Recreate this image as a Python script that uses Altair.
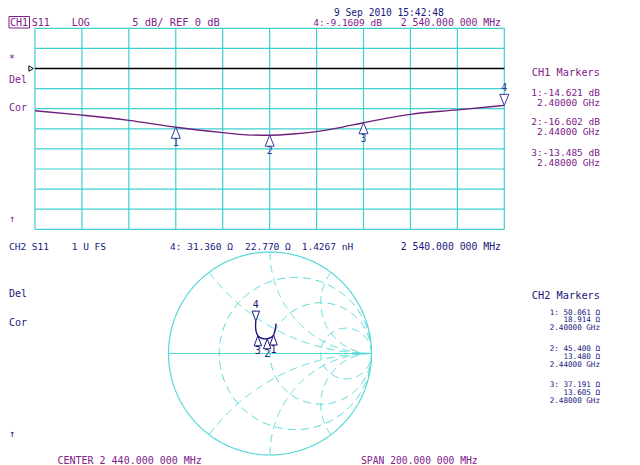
import altair as alt
import numpy as np
import pandas as pd

# CH1: S11 log magnitude trace
freq_ghz = [2.34, 2.36, 2.38, 2.40, 2.42, 2.43, 2.44, 2.45, 2.46, 2.47, 2.48, 2.50, 2.52, 2.54]
s11_db = [-10.5, -11.6, -12.9, -14.621, -15.95, -16.5, -16.602, -16.3, -15.7, -14.7, -13.485, -11.4, -10.3, -9.1609]

# markers
marker_ids = ["1", "2", "3", "4"]
marker_freq = [2.40, 2.44, 2.48, 2.54]
marker_db = [-14.621, -16.602, -13.485, -9.1609]
marker_res = [50.061, 45.400, 37.191, 31.360]
marker_react = [18.914, 13.480, 13.605, 22.770]

# CH2: Smith chart trace (reflection coefficient)
smith_freq = [2.34, 2.36, 2.38, 2.40, 2.42, 2.44, 2.46, 2.48, 2.50, 2.52, 2.54]
gamma_re = [0.060, 0.055, 0.047, 0.035, 0.010, -0.028, -0.075, -0.120, -0.138, -0.142, -0.140]
gamma_im = [0.295, 0.257, 0.219, 0.182, 0.158, 0.145, 0.148, 0.175, 0.224, 0.267, 0.319]

# grid
grid_freq = [2.34, 2.36, 2.38, 2.40, 2.42, 2.44, 2.46, 2.48, 2.50, 2.52, 2.54]
grid_db = [10, 5, 0, -5, -10, -15, -20, -25, -30, -35, -40]
ref_db = [0]
smith_r_circles = [1 / 3, 1, 3]
smith_x_arcs = [0.5, 1, 2, -0.5, -1, -2]

# texts
date_text = "9 Sep 2010  15:42:48"
ch1_header = ["CH1", "S11", "LOG", "5 dB/ REF 0 dB", "4:-9.1609 dB", "2 540.000 000 MHz"]
ch1_side = ["*", "Del", "Cor", "\u2191"]
ch1_marker_title = "CH1 Markers"
ch1_marker_lines = ["1:-14.621 dB", "2.40000 GHz", "2:-16.602 dB",
                    "2.44000 GHz", "3:-13.485 dB", "2.48000 GHz"]
ch2_header = ["CH2", "S11", "1 U FS", "4: 31.360 \u03a9", "22.770 \u03a9", "1.4267 nH", "2 540.000 000 MHz"]
ch2_side = ["Del", "Cor", "\u2191"]
ch2_marker_title = "CH2 Markers"
ch2_marker_lines = ["1: 50.061 \u03a9", "18.914 \u03a9", "2.40000 GHz",
                    "2: 45.400 \u03a9", "13.480 \u03a9", "2.44000 GHz",
                    "3: 37.191 \u03a9", "13.605 \u03a9", "2.48000 GHz"]
footer = ["CENTER 2 440.000 000 MHz", "SPAN  200.000 000 MHz"]

# ---------------- styles ----------------
FONT = "DejaVu Sans Mono"
FS = 10
PURPLE = "#80208A"
TRACE1 = "#6E1E7C"
MK1 = "#3A3A9A"
NAVY = "#18187C"
GRID = "#3FCFCF"
SMITH = "#55D8D8"

M = 8  # page margin
xs_top = alt.Scale(domain=[2.34, 2.54], range=[35 - M, 504.3 - M], nice=False, zero=False)
ys_top = alt.Scale(domain=[-40, 10], range=[229.3 - M, 28.3 - M], nice=False, zero=False)
xs_sm = alt.Scale(domain=[-1, 1], range=[168.5 - M, 371.5 - M], nice=False, zero=False)
ys_sm = alt.Scale(domain=[-1, 1], range=[455 - M, 252 - M], nice=False, zero=False)

UP_BIG = "M 0 0 L -0.41 1 L 0.41 1 Z"
DOWN_BIG = "M 0 0 L -0.41 -1 L 0.41 -1 Z"
UP_SM = "M 0 0 L -0.37 1 L 0.37 1 Z"
DOWN_SM = "M 0 0 L -0.37 -1 L 0.37 -1 Z"
RIGHT_TRI = "M 0 0 L -1 -0.6 L -1 0.6 Z"

# ---------------- CH1 panel ----------------
df_trace = pd.DataFrame({"f": freq_ghz, "db": s11_db})
df_mk = pd.DataFrame({"id": marker_ids, "f": marker_freq, "db": marker_db,
                      "R": marker_res, "X": marker_react})

vgrid = alt.Chart(pd.DataFrame({"f": grid_freq})).mark_rule(color=GRID, strokeWidth=1.2).encode(
    x=alt.X("f:Q", scale=xs_top, axis=None),
    y=alt.YDatum(-40, type="quantitative", scale=ys_top, axis=None),
    y2=alt.Y2Datum(10),
)
hgrid = alt.Chart(pd.DataFrame({"db": grid_db})).mark_rule(color=GRID, strokeWidth=1.2).encode(
    y=alt.Y("db:Q", scale=ys_top, axis=None),
    x=alt.XDatum(2.34, type="quantitative", scale=xs_top, axis=None),
    x2=alt.X2Datum(2.54),
)
ref_line = alt.Chart(pd.DataFrame({"db": ref_db})).mark_rule(color="black", strokeWidth=1.3).encode(
    y=alt.Y("db:Q", scale=ys_top, axis=None),
    x=alt.XDatum(2.34, type="quantitative", scale=xs_top, axis=None),
    x2=alt.X2Datum(2.54),
)
ref_tri = alt.Chart(pd.DataFrame({"db": ref_db})).mark_point(
    shape=RIGHT_TRI, size=80, color="black", strokeWidth=1, opacity=1).encode(
    y=alt.Y("db:Q", scale=ys_top, axis=None),
    x=alt.XDatum(2.3393, type="quantitative", scale=xs_top, axis=None),
)
trace1 = alt.Chart(df_trace).mark_line(color=TRACE1, strokeWidth=1.4, interpolate="monotone").encode(
    x=alt.X("f:Q", scale=xs_top, axis=None),
    y=alt.Y("db:Q", scale=ys_top, axis=None),
)
mk_base = alt.Chart(df_mk).encode(
    x=alt.X("f:Q", scale=xs_top, axis=None),
    y=alt.Y("db:Q", scale=ys_top, axis=None),
)
mk_up = mk_base.transform_filter("datum.id != '4'").mark_point(
    shape=UP_BIG, size=484, filled=True, fill="white", stroke=MK1, strokeWidth=1, opacity=1)
mk_dn = mk_base.transform_filter("datum.id == '4'").mark_point(
    shape=DOWN_BIG, size=484, filled=True, fill="white", stroke=MK1, strokeWidth=1, opacity=1)
mk_up_lbl = mk_base.transform_filter("datum.id != '4'").mark_text(
    dy=16, font=FONT, fontSize=FS, color=MK1).encode(text="id:N")
mk_dn_lbl = mk_base.transform_filter("datum.id == '4'").mark_text(
    dy=-17, font=FONT, fontSize=FS, color=MK1).encode(text="id:N")

ch1 = alt.layer(vgrid, hgrid, ref_line, ref_tri, trace1, mk_up, mk_dn, mk_up_lbl, mk_dn_lbl)

# ---------------- CH2 Smith chart ----------------
curves = []
th = np.linspace(0, 2 * np.pi, 241)
for k, r in enumerate(smith_r_circles):
    c, rad = r / (1 + r), 1 / (1 + r)
    curves.append(pd.DataFrame({"curve": f"r{k}", "i": np.arange(th.size),
                                "gr": c + rad * np.cos(th), "gi": rad * np.sin(th)}))
t = np.tan(np.linspace(0, np.pi / 2 - 0.002, 200))
for k, xv in enumerate(smith_x_arcs):
    z = t + 1j * xv
    g = (z - 1) / (z + 1)
    curves.append(pd.DataFrame({"curve": f"x{k}", "i": np.arange(t.size),
                                "gr": g.real, "gi": g.imag}))
df_grid = pd.concat(curves, ignore_index=True)
df_outer = pd.DataFrame({"i": np.arange(th.size), "gr": np.cos(th), "gi": np.sin(th)})

sx = alt.X("gr:Q", scale=xs_sm, axis=None)
sy = alt.Y("gi:Q", scale=ys_sm, axis=None)

sm_grid = alt.Chart(df_grid).mark_line(color=SMITH, strokeWidth=1, strokeDash=[8, 5]).encode(
    x=sx, y=sy, detail="curve:N", order="i:Q")
sm_outer = alt.Chart(df_outer).mark_line(color=SMITH, strokeWidth=1.2).encode(
    x=sx, y=sy, order="i:Q")
sm_axis = alt.Chart(pd.DataFrame({"gi": [0]})).mark_rule(color=SMITH, strokeWidth=1.2).encode(
    y=sy,
    x=alt.XDatum(-1, type="quantitative", scale=xs_sm, axis=None),
    x2=alt.X2Datum(1),
)
df_sm = pd.DataFrame({"f": smith_freq, "gr": gamma_re, "gi": gamma_im, "i": range(len(smith_freq))})
sm_trace = alt.Chart(df_sm).mark_line(color=NAVY, strokeWidth=1.4, interpolate="catmull-rom").encode(
    x=sx, y=sy, order="i:Q")

sm_mk_base = alt.Chart(df_mk).transform_calculate(
    zr="datum.R / 50", zi="datum.X / 50"
).transform_calculate(
    den="(datum.zr + 1) * (datum.zr + 1) + datum.zi * datum.zi"
).transform_calculate(
    gr="(datum.zr * datum.zr + datum.zi * datum.zi - 1) / datum.den",
    gi="2 * datum.zi / datum.den",
).encode(x=sx, y=sy)
sm_up = sm_mk_base.transform_filter("datum.id != '4'").mark_point(
    shape=UP_SM, size=400, filled=True, fill="white", stroke=NAVY, strokeWidth=1, opacity=1)
sm_dn = sm_mk_base.transform_filter("datum.id == '4'").mark_point(
    shape=DOWN_SM, size=400, filled=True, fill="white", stroke=NAVY, strokeWidth=1, opacity=1)
sm_up_lbl = sm_mk_base.transform_filter("datum.id != '4'").mark_text(
    dy=15, font=FONT, fontSize=FS, color=NAVY).encode(text="id:N")
sm_dn_lbl = sm_mk_base.transform_filter("datum.id == '4'").mark_text(
    dy=-16, font=FONT, fontSize=FS, color=NAVY).encode(text="id:N")

ch2 = alt.layer(sm_grid, sm_outer, sm_axis, sm_trace, sm_up, sm_dn, sm_up_lbl, sm_dn_lbl)


# ---------------- annotations ----------------
def txt(s, x, y, color, align="left", size=FS):
    return alt.Chart(pd.DataFrame({"t": [s]})).mark_text(
        align=align, baseline="middle", font=FONT, fontSize=size, color=color
    ).encode(x=alt.value(x - M), y=alt.value(y - M), text="t:N")


texts = []
texts.append(txt(date_text, 334, 12.5, NAVY, size=9.6))
# CH1 header row
ch1_x = [10, 31.7, 71.7, 132.3, 313.3]
ch1_sz = [10, 10, 10, 10.4, 9.5]
for s, x, sz in zip(ch1_header[:5], ch1_x, ch1_sz):
    texts.append(txt(s, x, 22.5, PURPLE, size=sz))
texts.append(txt(ch1_header[5], 501, 22.5, PURPLE, "right", size=9.8))
box = alt.Chart(pd.DataFrame({"a": [0]})).mark_rect(
    fillOpacity=0, stroke=PURPLE, strokeWidth=1).encode(
    x=alt.value(9 - M), x2=alt.value(29.5 - M), y=alt.value(16.5 - M), y2=alt.value(28 - M))
texts.append(box)
for s, y in zip(ch1_side, [59.3, 80, 107.7, 219.3]):
    texts.append(txt(s, 9, y, PURPLE))
texts.append(txt(ch1_marker_title, 600, 73.3, PURPLE, "right", size=10.3))
for s, y in zip(ch1_marker_lines, [92.5, 102.5, 121.5, 131.5, 153, 163]):
    texts.append(txt(s, 600, y, PURPLE, "right", size=9.5))
# CH2 header row
ch2_x = [9, 31.7, 71.7, 170, 245, 301.7]
for s, x in zip(ch2_header[:6], ch2_x):
    texts.append(txt(s, x, 247.3, NAVY, size=9.5))
texts.append(txt(ch2_header[6], 501, 247.3, NAVY, "right", size=9.8))
for s, y in zip(ch2_side, [294.3, 322.7, 434]):
    texts.append(txt(s, 9, y, NAVY))
texts.append(txt(ch2_marker_title, 600, 295.7, NAVY, "right", size=10.3))
for s, y in zip(ch2_marker_lines, [312.5, 320.2, 327.9, 349.2, 356.9, 364.6, 385.2, 392.9, 400.6]):
    texts.append(txt(s, 600, y, NAVY, "right", size=7.6))
texts.append(txt(footer[0], 57.4, 460.5, PURPLE))
texts.append(txt(footer[1], 361, 460.5, PURPLE, size=9.7))

chart = alt.layer(ch1, ch2, *texts).resolve_scale(
    x="independent", y="independent"
).properties(
    width=624, height=457, padding=0,
    autosize=alt.AutoSizeParams(type="none"),
    background="white",
).configure_view(stroke=None)

chart.save("out.html", embed_options={"renderer": "svg", "actions": False})
